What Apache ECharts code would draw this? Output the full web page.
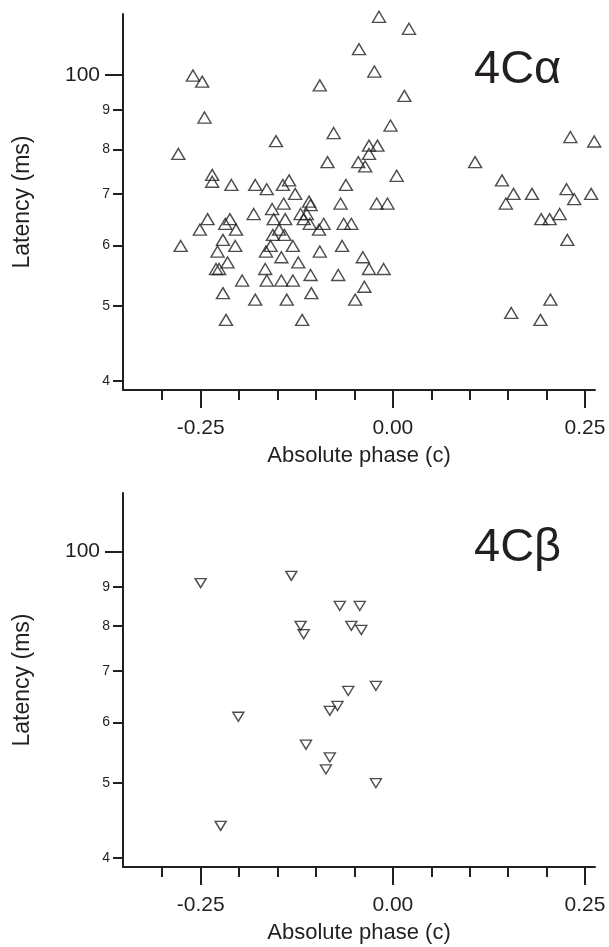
<!DOCTYPE html>
<html>
<head>
<meta charset="utf-8">
<script src="https://cdn.jsdelivr.net/npm/echarts@6/dist/echarts.min.js"></script>
<style>
    html, body { margin: 0; padding: 0; background: #fff; }
    #chart { width: 609px; height: 947px; }
</style>
</head>
<body>
<div id="chart"></div>
<script>
// 4Cα cells: absolute phase (c) / latency (ms)
const alphaPhase = [
    -0.044, -0.260, -0.248, -0.095, -0.245, -0.077, -0.152, -0.279, -0.085, -0.045,
    -0.036, -0.018, 0.021, -0.024, 0.015, -0.003, -0.031, -0.020, -0.031, 0.107,
    0.231, 0.262, -0.235, -0.235, -0.210, -0.179, -0.164, -0.143, -0.135, -0.127,
    -0.061, -0.142, -0.109, -0.107, -0.068, -0.157, -0.181, -0.120, -0.112, -0.241,
    -0.212, -0.155, -0.140, -0.116, -0.251, -0.218, -0.204, -0.148, -0.108, -0.096,
    -0.090, -0.064, -0.054, -0.156, -0.141, -0.221, -0.276, -0.205, -0.159, -0.130,
    -0.066, -0.228, -0.165, -0.095, -0.039, -0.145, -0.215, -0.123, -0.230, -0.226,
    -0.166, -0.107, -0.071, -0.196, -0.164, -0.145, -0.130, -0.037, -0.221, -0.106,
    -0.179, -0.138, -0.049, -0.217, -0.118, 0.005, 0.142, 0.157, 0.181, 0.147,
    0.226, 0.236, 0.258, -0.021, -0.007, 0.193, 0.204, 0.217, 0.227, -0.031,
    -0.012, 0.205, 0.154, 0.192,
];
const alphaLatency = [
    108, 99.8, 98, 96.9, 88, 84, 82, 78.9, 77, 77,
    76, 119, 114.8, 101, 93.9, 85.9, 80.9, 80.9, 78.9, 77,
    83, 81.9, 74.1, 72.6, 71.9, 71.9, 71, 71.9, 72.9, 70,
    71.9, 68, 68.4, 67.7, 68, 66.9, 65.9, 65.9, 65.9, 64.9,
    64.9, 64.9, 64.9, 64.9, 62.9, 64, 62.9, 62.9, 64, 62.9,
    64, 64, 64, 61.9, 61.9, 61, 59.9, 59.9, 59.9, 59.9,
    59.9, 58.9, 58.9, 58.9, 57.9, 57.9, 57, 57, 55.9, 55.9,
    55.9, 54.9, 54.9, 54, 54, 54, 54, 53, 52, 52,
    51, 51, 51, 48, 48, 73.9, 72.9, 70, 70, 68,
    71, 68.9, 70, 68, 68, 64.9, 64.9, 65.9, 61, 55.9,
    55.9, 51, 49, 48,
];

// 4Cβ cells
const betaPhase = [
    -0.250, -0.132, -0.069, -0.043, -0.120, -0.116, -0.054, -0.041, -0.022,
    -0.058, -0.072, -0.082, -0.201, -0.113, -0.082, -0.087, -0.022, -0.224,
];
const betaLatency = [
    91, 93, 85, 85, 80.1, 78.1, 80.1, 79.1, 66.9,
    65.9, 63, 62.1, 61, 56.1, 54, 52.1, 50, 44,
];

// ticks
const phaseMinorTicks = [-0.3, -0.25, -0.2, -0.15, -0.1, -0.05, 0, 0.05, 0.1, 0.15, 0.2, 0.25];
const phaseMajorTicks = [-0.25, 0, 0.25];
const latencyMinorTicks = [40, 50, 60, 70, 80, 90];
const latencyMajorTicks = [100];

const ink = '#231f20';
const font = '"Liberation Sans", Arial, Helvetica, sans-serif';
const lineStyle = { color: ink, width: 2 };

let myChart = echarts.init(document.getElementById('chart'), null, { renderer: 'canvas' });

function phaseAxes(gridIndex) {
    const base = {
        type: 'value',
        gridIndex: gridIndex,
        position: 'bottom',
        min: -0.351,
        max: 0.263,
        splitLine: { show: false },
    };
    return [
        Object.assign({}, base, {
            axisLine: { show: true, onZero: false, lineStyle: lineStyle },
            axisTick: { show: true, customValues: phaseMinorTicks, length: 10, lineStyle: lineStyle },
            axisLabel: { show: false },
        }),
        Object.assign({}, base, {
            axisLine: { show: false, onZero: false },
            axisTick: { show: true, customValues: phaseMajorTicks, length: 18, lineStyle: lineStyle },
            axisLabel: {
                customValues: phaseMajorTicks,
                formatter: v => v.toFixed(2),
                color: ink,
                fontSize: 21,
                fontFamily: font,
                margin: 28,
            },
            name: 'Absolute phase (c)',
            nameLocation: 'middle',
            nameGap: 55,
            nameTextStyle: { color: ink, fontSize: 22, fontFamily: font },
        }),
    ];
}

function latencyAxes(gridIndex, min, max) {
    const base = {
        type: 'log',
        logBase: 10,
        gridIndex: gridIndex,
        position: 'left',
        min: min,
        max: max,
        splitLine: { show: false },
        minorTick: { show: false },
    };
    return [
        Object.assign({}, base, {
            axisLine: { show: true, onZero: false, lineStyle: lineStyle },
            axisTick: { show: true, customValues: latencyMinorTicks, length: 10, lineStyle: lineStyle },
            axisLabel: {
                customValues: latencyMinorTicks,
                formatter: v => String(Math.round(v / 10)),
                color: ink,
                fontSize: 14,
                fontFamily: font,
                margin: 13,
            },
        }),
        Object.assign({}, base, {
            axisLine: { show: false, onZero: false },
            axisTick: { show: true, customValues: latencyMajorTicks, length: 18, lineStyle: lineStyle },
            axisLabel: {
                customValues: latencyMajorTicks,
                formatter: v => String(Math.round(v)),
                color: ink,
                fontSize: 21,
                fontFamily: font,
                margin: 23,
            },
            name: 'Latency (ms)',
            nameLocation: 'middle',
            nameGap: 89,
            nameTextStyle: { color: ink, fontSize: 23, fontFamily: font },
        }),
    ];
}

function triangles(phase, latency, axisIndex, size, rotate) {
    return {
        type: 'scatter',
        xAxisIndex: axisIndex,
        yAxisIndex: axisIndex,
        data: phase.map((p, i) => [p, latency[i]]),
        symbol: 'triangle',
        symbolSize: size,
        symbolRotate: rotate,
        itemStyle: { color: 'transparent', borderColor: ink, borderWidth: 1.4 },
        clip: false,
        silent: true,
        z: 5,
    };
}

const option = {
    backgroundColor: '#fff',
    animation: false,
    title: [
        { text: '4Cα', left: 474, top: 47, padding: 0,
          textStyle: { fontSize: 47, fontWeight: 'normal', color: ink, fontFamily: font } },
        { text: '4Cβ', left: 474, top: 525, padding: 0,
          textStyle: { fontSize: 47, fontWeight: 'normal', color: ink, fontFamily: font } },
    ],
    grid: [
        { left: 123, top: 14, width: 472, height: 376 },
        { left: 123, top: 493, width: 472, height: 374 },
    ],
    xAxis: phaseAxes(0).concat(phaseAxes(1)),
    yAxis: latencyAxes(0, 38.9, 120).concat(latencyAxes(1, 38.9, 119.2)),
    series: [
        triangles(alphaPhase, alphaLatency, 1, [13, 11], 0),
        triangles(betaPhase, betaLatency, 3, [11, 9], 180),
    ],
};

myChart.setOption(option);
window.addEventListener('resize', () => {
    myChart.resize();
});
</script>
</body>
</html>
